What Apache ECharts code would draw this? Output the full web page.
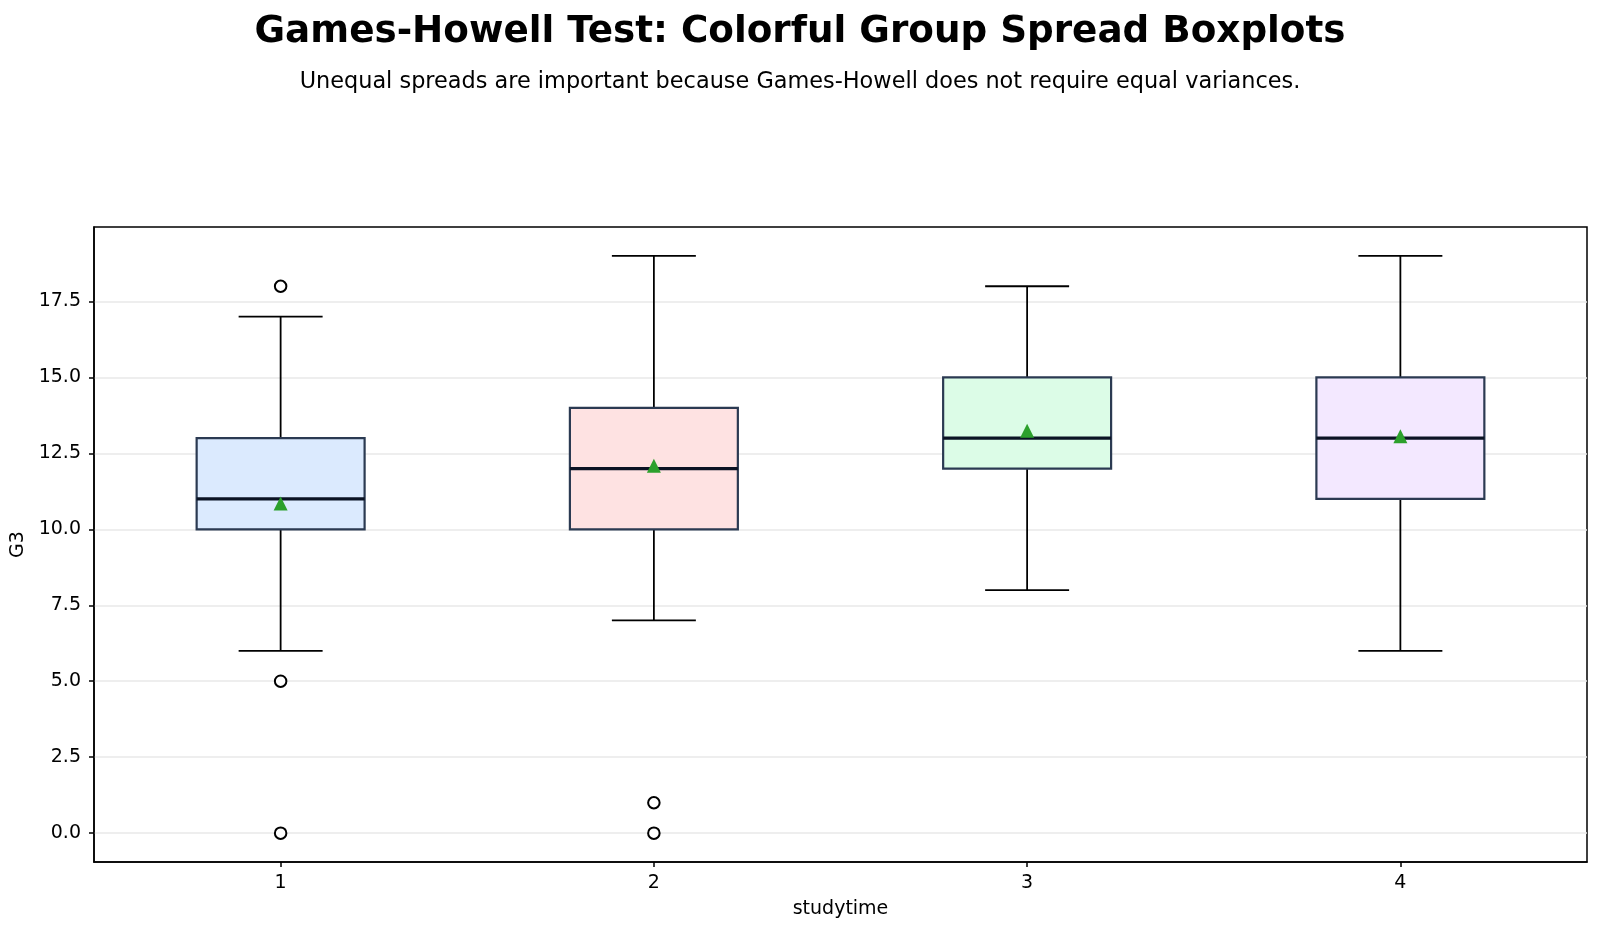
<!DOCTYPE html>
<html>
<head>
<meta charset="utf-8">
<script src="https://cdn.jsdelivr.net/npm/echarts@6/dist/echarts.min.js"></script>
<style>
html,body{margin:0;padding:0;background:#fff;}
#chart{width:1600px;height:933px;}
</style>
</head>
<body>
<div id="chart"></div>
<script>
// ---- data ----
const categories = ['1', '2', '3', '4'];
const whiskerLow = [6, 7, 8, 6];
const q1 = [10, 10, 12, 11];
const medians = [11, 12, 13, 13];
const q3 = [13, 14, 15, 15];
const whiskerHigh = [17, 19, 18, 19];
const means = [10.85, 12.09, 13.24, 13.06];
const outliers1 = [18, 5, 0];
const outliers2 = [1, 0];
const outliers3 = [];
const outliers4 = [];
const yTicks = [0, 2.5, 5, 7.5, 10, 12.5, 15, 17.5];

// ---- styles ----
const fills = ['#dbeafe', '#fee2e2', '#dcfce7', '#f3e8ff'];
const FONT = 'DejaVu Sans';

const boxData = categories.map((c, i) => [i, whiskerLow[i], q1[i], medians[i], q3[i], whiskerHigh[i]]);
const outlierGroups = [outliers1, outliers2, outliers3, outliers4];
const outlierData = [];
outlierGroups.forEach((g, i) => g.forEach(v => outlierData.push([i, v])));
const meanData = means.map((m, i) => [i, m]);

const chart = echarts.init(document.getElementById('chart'), null, {renderer: 'canvas'});
chart.setOption({
  backgroundColor: '#ffffff',
  animation: false,
  title: [
    {
      text: 'Games-Howell Test: Colorful Group Spread Boxplots',
      left: 'center', top: 9,
      textStyle: {fontFamily: FONT, fontSize: 37.3, fontWeight: 'bold', color: '#000'}
    },
    {
      text: 'Unequal spreads are important because Games-Howell does not require equal variances.',
      left: 'center', top: 66,
      textStyle: {fontFamily: FONT, fontSize: 22.4, fontWeight: 'normal', color: '#000'}
    }
  ],
  grid: {left: 94, right: 13, top: 227, bottom: 71, show: true, borderColor: '#000', borderWidth: 1.5, backgroundColor: 'transparent'},
  xAxis: {
    type: 'category',
    data: categories,
    name: 'studytime',
    nameLocation: 'middle',
    nameGap: 38,
    nameTextStyle: {fontFamily: FONT, fontSize: 19, color: '#000'},
    axisLine: {show: true, onZero: false, lineStyle: {color: '#000', width: 1.5}},
    axisTick: {show: true, alignWithLabel: true, length: 5, lineStyle: {color: '#000', width: 1.5}},
    axisLabel: {fontFamily: FONT, fontSize: 19, color: '#000', margin: 12},
    splitLine: {show: false}
  },
  yAxis: {
    type: 'value',
    min: -0.95, max: 19.95,
    name: 'G3',
    nameLocation: 'middle',
    nameGap: 62,
    nameTextStyle: {fontFamily: FONT, fontSize: 19, color: '#000'},
    axisLine: {show: true, onZero: false, lineStyle: {color: '#000', width: 1.5}},
    axisTick: {show: true, length: 5, customValues: yTicks, lineStyle: {color: '#000', width: 1.5}},
    axisLabel: {fontFamily: FONT, fontSize: 19, color: '#000', margin: 13, customValues: yTicks,
      formatter: v => Number(v).toFixed(1)},
    splitLine: {show: true, lineStyle: {color: '#e8e8e8', width: 1.5}}
  },
  series: [
    {
      type: 'custom',
      name: 'boxes',
      data: boxData,
      encode: {x: 0, y: [1, 2, 3, 4, 5]},
      z: 2,
      renderItem: function (params, api) {
        const i = api.value(0);
        const lo = api.coord([i, api.value(1)]);
        const b1 = api.coord([i, api.value(2)]);
        const md = api.coord([i, api.value(3)]);
        const b3 = api.coord([i, api.value(4)]);
        const hi = api.coord([i, api.value(5)]);
        const band = api.size([1, 0])[0];
        const bw = band * 0.45;
        const cw = bw / 2;
        const cx = lo[0];
        const wStyle = {stroke: '#000', lineWidth: 1.8, fill: null};
        return {
          type: 'group',
          children: [
            {type: 'line', shape: {x1: cx, y1: b1[1], x2: cx, y2: lo[1]}, style: wStyle},
            {type: 'line', shape: {x1: cx, y1: b3[1], x2: cx, y2: hi[1]}, style: wStyle},
            {type: 'line', shape: {x1: cx - cw / 2, y1: lo[1], x2: cx + cw / 2, y2: lo[1]}, style: wStyle},
            {type: 'line', shape: {x1: cx - cw / 2, y1: hi[1], x2: cx + cw / 2, y2: hi[1]}, style: wStyle},
            {type: 'rect', shape: {x: cx - bw / 2, y: b3[1], width: bw, height: b1[1] - b3[1]},
              style: {fill: fills[params.dataIndex], stroke: '#2b3a52', lineWidth: 2.2}},
            {type: 'line', shape: {x1: cx - bw / 2, y1: md[1], x2: cx + bw / 2, y2: md[1]},
              style: {stroke: '#0b1324', lineWidth: 3.2}}
          ]
        };
      }
    },
    {
      type: 'scatter',
      name: 'outliers',
      data: outlierData,
      symbol: 'circle',
      symbolSize: 11.5,
      z: 4,
      itemStyle: {color: '#ffffff', borderColor: '#000', borderWidth: 2, opacity: 1}
    },
    {
      type: 'scatter',
      name: 'means',
      data: meanData,
      symbol: 'triangle',
      symbolSize: 14,
      z: 5,
      itemStyle: {color: '#2ca02c', opacity: 1}
    }
  ]
});
</script>
</body>
</html>
